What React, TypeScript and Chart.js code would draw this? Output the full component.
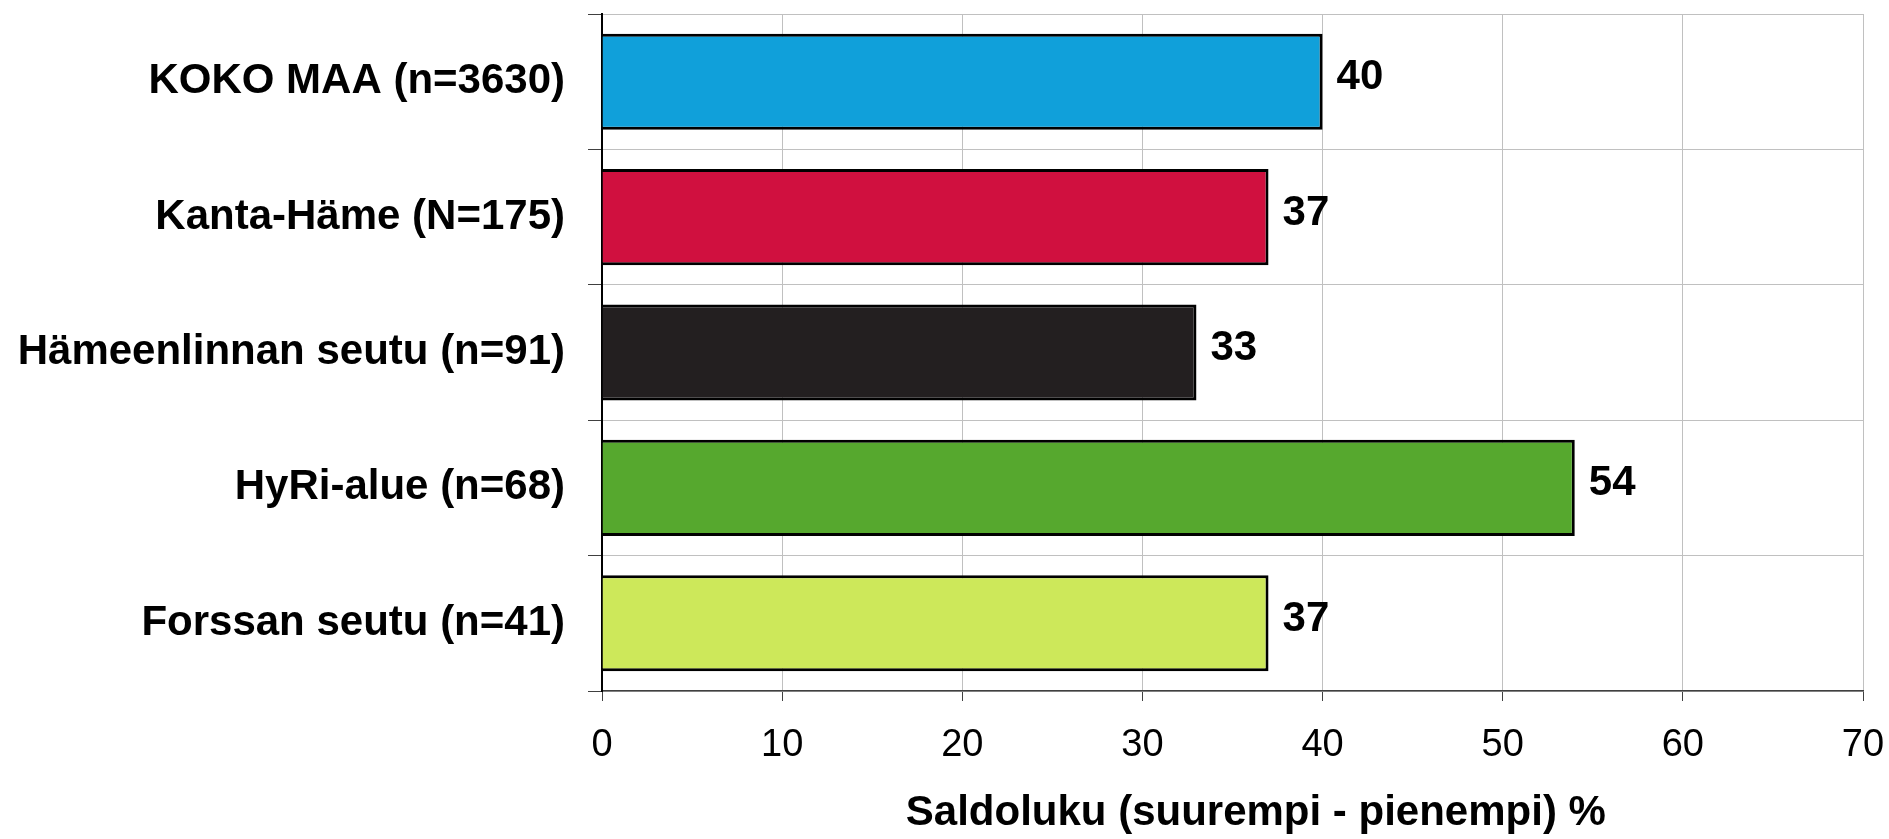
import React, { useEffect, useRef } from "react";
import { Chart, registerables } from "chart.js";

Chart.register(...registerables);

const categories = [
  "KOKO MAA (n=3630)",
  "Kanta-Häme (N=175)",
  "Hämeenlinnan seutu (n=91)",
  "HyRi-alue (n=68)",
  "Forssan seutu (n=41)",
];
const values = [40, 37, 33, 54, 37];
const barColors = ["#10a0da", "#d0103f", "#231f20", "#56a82e", "#cde85a"];
const xTicks = [0, 10, 20, 30, 40, 50, 60, 70];
const axisTitle = "Saldoluku (suurempi - pienempi) %";

const valueLabels = {
  id: "valueLabels",
  afterDatasetsDraw(chart: any) {
    const ctx = chart.ctx;
    const meta = chart.getDatasetMeta(0);
    ctx.save();
    ctx.font = "bold 42px 'Liberation Sans', Arial, sans-serif";
    ctx.fillStyle = "#000";
    ctx.textAlign = "left";
    ctx.textBaseline = "middle";
    meta.data.forEach((bar: any, i: number) => {
      ctx.fillText(String(values[i]), bar.x + 14, bar.y - 4);
    });
    ctx.restore();
  },
};

export default function App() {
  const canvasRef = useRef<HTMLCanvasElement | null>(null);

  useEffect(() => {
    document.body.style.margin = "0";
    document.body.style.overflow = "hidden";
    const canvas = canvasRef.current;
    if (!canvas) return;
    const chart = new Chart(canvas, {
      type: "bar",
      data: {
        labels: categories,
        datasets: [
          {
            data: values,
            backgroundColor: barColors,
            borderColor: "#000",
            borderWidth: 3,
            categoryPercentage: 1,
            barPercentage: 0.71,
          },
        ],
      },
      plugins: [valueLabels],
      options: {
        indexAxis: "y",
        animation: false,
        responsive: false,
        maintainAspectRatio: false,
        layout: { padding: { top: 14, right: 26, left: 0, bottom: 0 } },
        plugins: {
          legend: { display: false },
          tooltip: { enabled: false },
        },
        scales: {
          x: {
            type: "linear",
            min: 0,
            max: 70,
            afterBuildTicks: (scale: any) => {
              scale.ticks = xTicks.map((v) => ({ value: v }));
            },
            afterFit: (scale: any) => {
              scale.height = 148;
              scale.paddingLeft = 0;
              scale.paddingRight = 0;
            },
            grid: {
              color: "#c0c0c0",
              lineWidth: 1,
              tickLength: 10,
              tickColor: "#404040",
            },
            border: { color: "#404040", width: 1.5 },
            ticks: {
              color: "#000",
              padding: 22,
              maxRotation: 0,
              font: { family: "'Liberation Sans', Arial, sans-serif", size: 38 },
            },
            title: {
              display: true,
              text: "    " + axisTitle,
              color: "#000",
              padding: { top: 0, bottom: 0 },
              font: { family: "'Liberation Sans', Arial, sans-serif", size: 42, weight: "bold" },
            },
          },
          y: {
            type: "category",
            afterFit: (scale: any) => {
              scale.width = 602;
              scale.paddingTop = 0;
              scale.paddingBottom = 0;
            },
            grid: {
              color: "#c0c0c0",
              lineWidth: 1,
              tickLength: 14,
              tickColor: "#404040",
              offset: true,
            },
            border: { color: "#000", width: 2 },
            ticks: {
              color: "#000",
              padding: 23,
              font: {
                family: "'Liberation Sans', Arial, sans-serif",
                size: 42,
                weight: "bold",
              },
            },
          },
        },
      },
    });
    return () => chart.destroy();
  }, []);

  return (
    <div style={{ width: 1889, height: 839 }}>
      <canvas ref={canvasRef} width={1889} height={839} style={{ display: "block" }} />
    </div>
  );
}
